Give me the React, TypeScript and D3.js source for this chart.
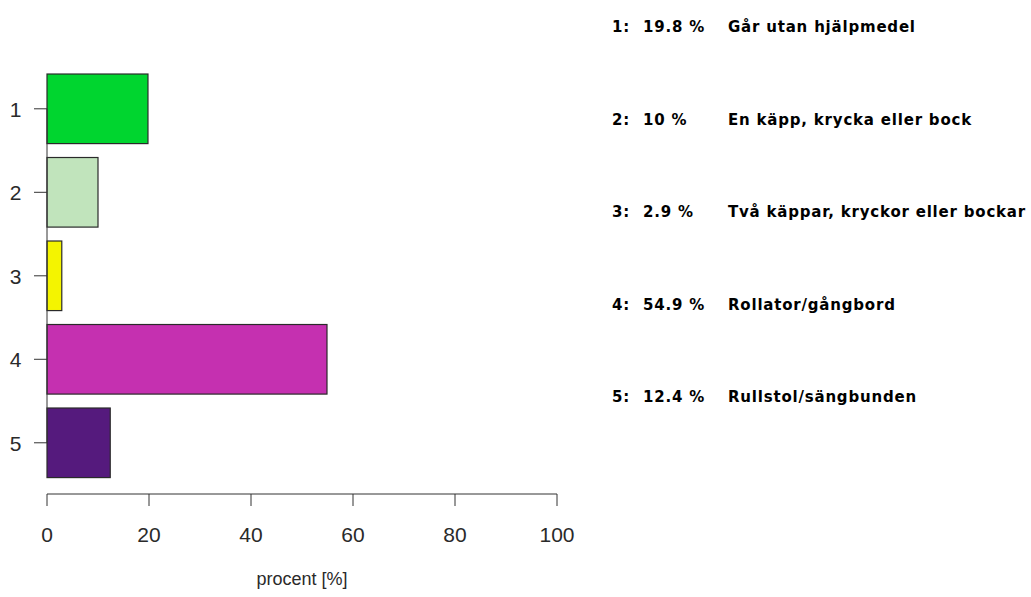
import React from "react";
import * as d3 from "d3";

const categories = ["1", "2", "3", "4", "5"];
const values = [19.8, 10, 2.9, 54.9, 12.4];
const labels = [
  "Går utan hjälpmedel",
  "En käpp, krycka eller bock",
  "Två käppar, kryckor eller bockar",
  "Rollator/gångbord",
  "Rullstol/sängbunden",
];
const colors = ["#00D52F", "#C1E4BC", "#F4F400", "#C530B0", "#551A7D"];
const xTicks = [0, 20, 40, 60, 80, 100];
const xTitle = "procent [%]";

export default function App() {
  const W = 1031;
  const H = 597;
  const x = d3.scaleLinear().domain([0, 100]).range([47, 557]);
  const y = d3
    .scaleBand<string>()
    .domain(categories)
    .range([60.1, 491.5])
    .paddingInner(1 / 6)
    .paddingOuter(1 / 6);
  const bw = y.bandwidth();
  const axisY = 494;
  const yc = (c: string) => (y(c) as number) + bw / 2;

  const legendY = d3.scaleLinear().domain([0, 4]).range([32, 402]);

  const axisFont = "'Liberation Sans', Arial, sans-serif";
  const legendFont = "'DejaVu Sans', Verdana, sans-serif";

  return (
    <svg
      width={W}
      height={H}
      style={{ position: "absolute", left: 0, top: 0, background: "#fff" }}
    >
      {/* bars */}
      {categories.map((c, i) => (
        <rect
          key={c}
          x={x(0)}
          y={y(c)}
          width={x(values[i]) - x(0)}
          height={bw}
          fill={colors[i]}
          stroke="#2a2a2a"
          strokeWidth={1.2}
        />
      ))}

      {/* y axis */}
      <line
        x1={x(0)}
        x2={x(0)}
        y1={yc(categories[0])}
        y2={yc(categories[categories.length - 1])}
        stroke="#333"
        strokeWidth={1}
      />
      {categories.map((c) => (
        <g key={"yt" + c}>
          <line x1={34} x2={x(0)} y1={yc(c)} y2={yc(c)} stroke="#333" strokeWidth={1} />
          <text
            x={15.5}
            y={yc(c) + 8}
            textAnchor="middle"
            fontFamily={axisFont}
            fontSize={21}
            fill="#2a2a2a"
          >
            {c}
          </text>
        </g>
      ))}

      {/* x axis */}
      <line
        x1={x(xTicks[0])}
        x2={x(xTicks[xTicks.length - 1])}
        y1={axisY}
        y2={axisY}
        stroke="#333"
        strokeWidth={1}
      />
      {xTicks.map((t) => (
        <g key={"xt" + t}>
          <line x1={x(t)} x2={x(t)} y1={axisY} y2={axisY + 12} stroke="#333" strokeWidth={1} />
          <text
            x={x(t)}
            y={542}
            textAnchor="middle"
            fontFamily={axisFont}
            fontSize={21}
            fill="#2a2a2a"
          >
            {t}
          </text>
        </g>
      ))}
      <text
        x={(x(0) + x(100)) / 2}
        y={585}
        textAnchor="middle"
        fontFamily={axisFont}
        fontSize={18}
        fill="#2a2a2a"
      >
        {xTitle}
      </text>

      {/* legend */}
      {categories.map((c, i) => (
        <g
          key={"lg" + c}
          fontFamily={legendFont}
          fontWeight="bold"
          fontSize={15}
          fill="#000"
          style={{ letterSpacing: "0.8px" }}
        >
          <text x={612} y={legendY(i)}>
            {c + ":"}
          </text>
          <text x={643} y={legendY(i)}>
            {values[i] + " %"}
          </text>
          <text x={728} y={legendY(i)}>
            {labels[i]}
          </text>
        </g>
      ))}
    </svg>
  );
}
